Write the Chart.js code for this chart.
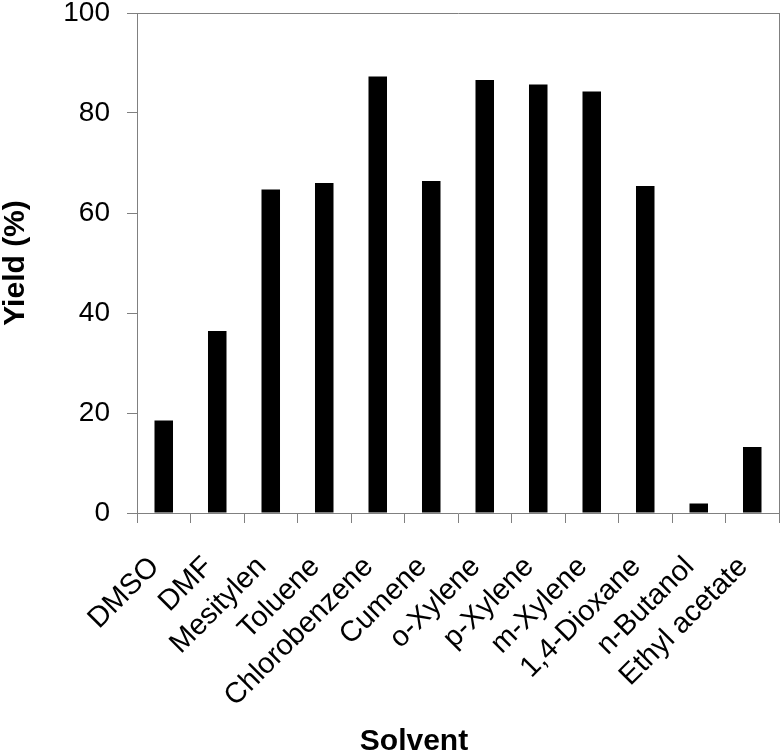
<!DOCTYPE html>
<html>
<head>
<meta charset="utf-8">
<script src="https://cdn.jsdelivr.net/npm/chart.js@4.4.0/dist/chart.umd.min.js"></script>
<style>
  html, body { margin: 0; padding: 0; background: #fff; }
  #wrap { width: 782px; height: 752px; }
</style>
</head>
<body>
<div id="wrap"><canvas id="myChart"></canvas></div>
<script>
// Solvent screening data
let solvents = ['DMSO', 'DMF', 'Mesitylen', 'Toluene', 'Chlorobenzene', 'Cumene',
    'o-Xylene', 'p-Xylene', 'm-Xylene', '1,4-Dioxane', 'n-Butanol', 'Ethyl acetate'];
let yields = [18.5, 36.4, 64.7, 66.0, 87.3, 66.4, 86.6, 85.7, 84.3, 65.4, 1.9, 13.2];
let yTicks = [0, 20, 40, 60, 80, 100];
let xTitle = 'Solvent';
let yTitle = 'Yield (%)';

let axisGray = '#808080';
let fontFamily = '"Liberation Sans", Arial, sans-serif';

// right border of the plot + x axis title
let framePlugin = {
    id: 'frame',
    afterDraw: function(chart) {
        let c = chart.ctx;
        let a = chart.chartArea;
        c.save();
        c.strokeStyle = axisGray;
        c.lineWidth = 1;
        c.beginPath();
        c.moveTo(Math.round(a.right) + 0.5, a.top);
        c.lineTo(Math.round(a.right) + 0.5, a.bottom);
        c.stroke();
        c.fillStyle = '#000';
        c.font = 'bold 30px ' + fontFamily;
        c.textAlign = 'center';
        c.textBaseline = 'alphabetic';
        c.fillText(xTitle, 414, 750);
        c.restore();
    }
};

let ctx = document.getElementById('myChart').getContext('2d');
let myChart = new Chart(ctx, {
    type: 'bar',
    data: {
        labels: solvents,
        datasets: [{
            label: yTitle,
            data: yields,
            backgroundColor: '#000000',
            borderWidth: 0,
            barPercentage: 0.346,
            categoryPercentage: 1.0
        }]
    },
    options: {
        responsive: true,
        maintainAspectRatio: false,
        animation: false,
        layout: { padding: { left: 0, right: 3, top: 13, bottom: 0 } },
        plugins: {
            legend: { display: false },
            tooltip: { enabled: false }
        },
        scales: {
            x: {
                offset: true,
                grid: {
                    display: true,
                    drawOnChartArea: false,
                    drawTicks: true,
                    tickLength: 10,
                    color: axisGray
                },
                border: { display: true, color: axisGray, width: 1 },
                ticks: {
                    autoSkip: false,
                    maxRotation: 45,
                    minRotation: 45,
                    padding: 27,
                    labelOffset: -9,
                    color: '#000',
                    font: { family: fontFamily, size: 29 }
                },
                afterFit: function(s) {
                    s.height = 239;
                    s.paddingLeft = 0;
                    s.paddingRight = 0;
                }
            },
            y: {
                min: 0,
                max: 100,
                afterBuildTicks: function(s) {
                    s.ticks = yTicks.map(function(v) { return { value: v }; });
                },
                grid: {
                    display: true,
                    drawOnChartArea: true,
                    drawTicks: true,
                    tickLength: 10,
                    color: function(c) {
                        return (c.tick && c.tick.value === 100) ? axisGray : 'rgba(0,0,0,0)';
                    },
                    tickColor: axisGray
                },
                border: { display: true, color: axisGray, width: 1 },
                ticks: {
                    padding: 17,
                    color: '#000',
                    font: { family: fontFamily, size: 28 }
                },
                title: {
                    display: true,
                    text: yTitle,
                    color: '#000',
                    font: { family: fontFamily, size: 30, weight: 'bold', lineHeight: 1 },
                    padding: { top: 1, bottom: 0 }
                },
                afterFit: function(s) {
                    s.width = 137;
                    s.paddingTop = 0;
                    s.paddingBottom = 0;
                }
            }
        }
    },
    plugins: [framePlugin]
});
</script>
</body>
</html>
